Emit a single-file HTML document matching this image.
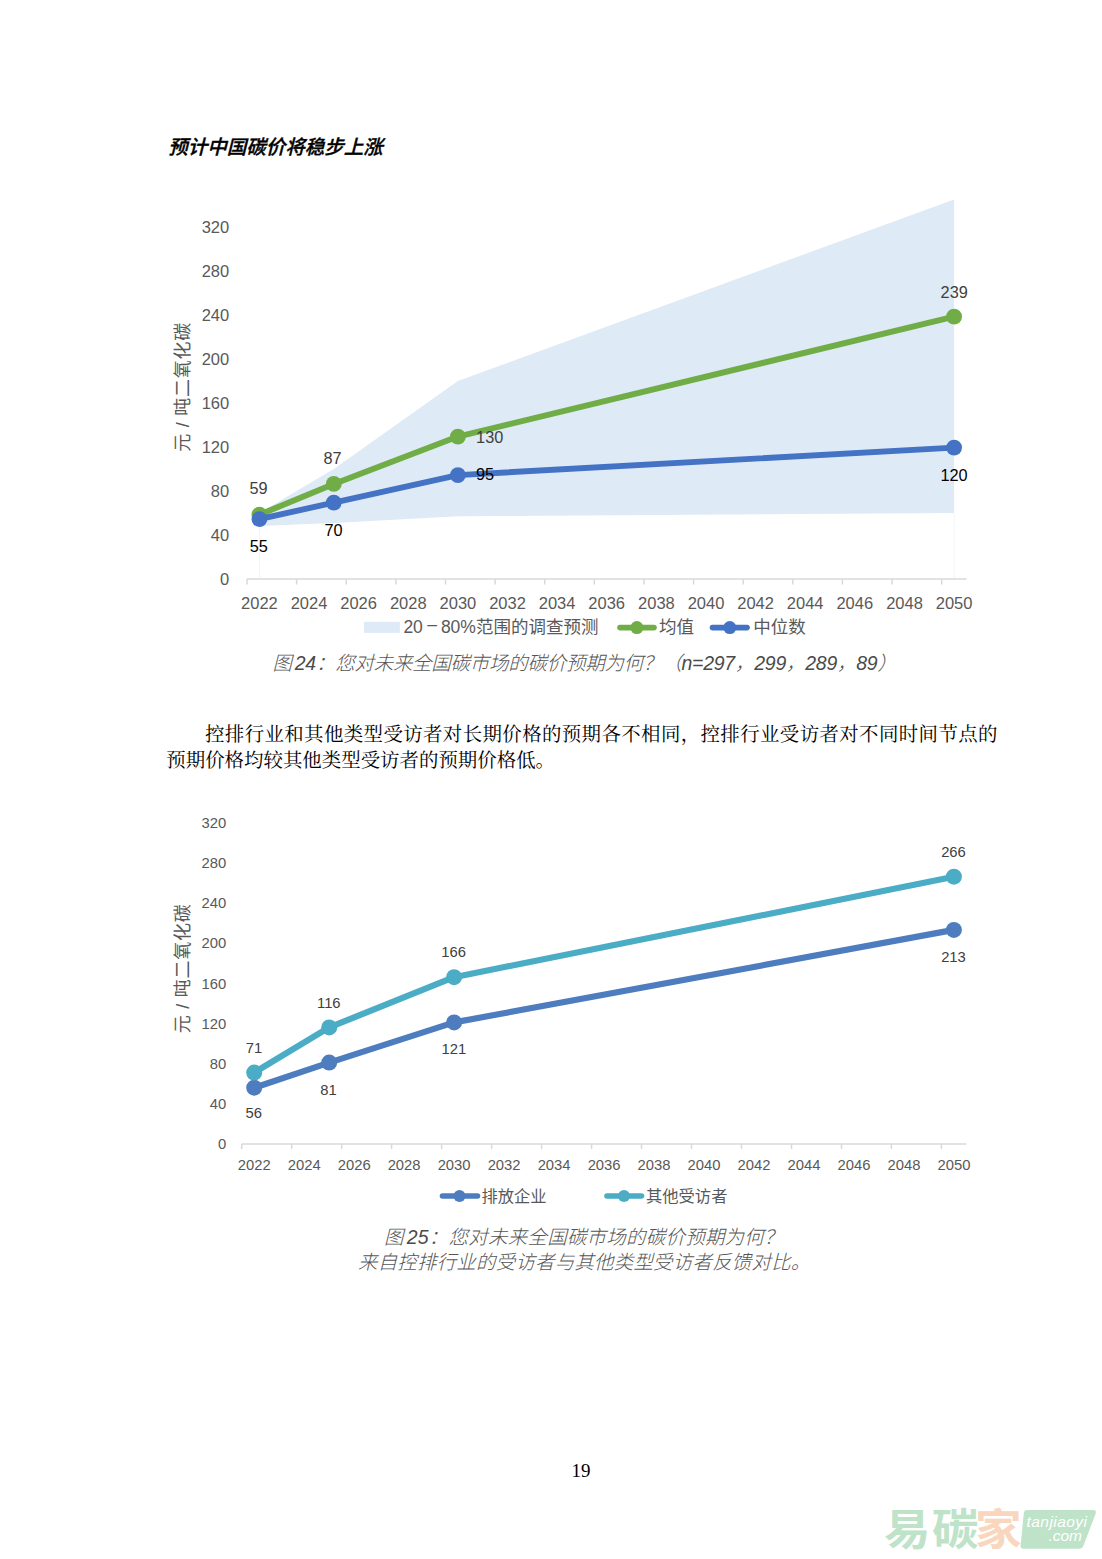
<!DOCTYPE html>
<html lang="zh-CN"><head><meta charset="utf-8"><title>预计中国碳价将稳步上涨</title>
<style>
html,body{margin:0;padding:0;background:#fff;}
body{width:1102px;height:1559px;position:relative;overflow:hidden;}
svg text{white-space:pre;}
</style></head><body>
<svg width="1102" height="1559" viewBox="0 0 1102 1559" style="position:absolute;left:0;top:0">
<polygon fill="#DEEAF6" points="259.4,513.0 333.8,469.0 457.9,381.0 954.1,199.5 954.1,513.0 457.9,516.3 333.8,522.9 259.4,525.9"/>
<line x1="259.4" y1="525.9" x2="259.4" y2="579.0" stroke="#F3F4F6" stroke-width="1"/>
<line x1="954.1" y1="513.0" x2="954.1" y2="579.0" stroke="#F3F4F6" stroke-width="1"/>
<line x1="247.0" y1="579.0" x2="966.6" y2="579.0" stroke="#D9D9D9" stroke-width="1.5"/>
<line x1="247.0" y1="579.0" x2="247.0" y2="584.5" stroke="#D9D9D9" stroke-width="1.5"/>
<line x1="296.6" y1="579.0" x2="296.6" y2="584.5" stroke="#D9D9D9" stroke-width="1.5"/>
<line x1="346.2" y1="579.0" x2="346.2" y2="584.5" stroke="#D9D9D9" stroke-width="1.5"/>
<line x1="395.9" y1="579.0" x2="395.9" y2="584.5" stroke="#D9D9D9" stroke-width="1.5"/>
<line x1="445.5" y1="579.0" x2="445.5" y2="584.5" stroke="#D9D9D9" stroke-width="1.5"/>
<line x1="495.1" y1="579.0" x2="495.1" y2="584.5" stroke="#D9D9D9" stroke-width="1.5"/>
<line x1="544.7" y1="579.0" x2="544.7" y2="584.5" stroke="#D9D9D9" stroke-width="1.5"/>
<line x1="594.3" y1="579.0" x2="594.3" y2="584.5" stroke="#D9D9D9" stroke-width="1.5"/>
<line x1="644.0" y1="579.0" x2="644.0" y2="584.5" stroke="#D9D9D9" stroke-width="1.5"/>
<line x1="693.6" y1="579.0" x2="693.6" y2="584.5" stroke="#D9D9D9" stroke-width="1.5"/>
<line x1="743.2" y1="579.0" x2="743.2" y2="584.5" stroke="#D9D9D9" stroke-width="1.5"/>
<line x1="792.8" y1="579.0" x2="792.8" y2="584.5" stroke="#D9D9D9" stroke-width="1.5"/>
<line x1="842.4" y1="579.0" x2="842.4" y2="584.5" stroke="#D9D9D9" stroke-width="1.5"/>
<line x1="892.1" y1="579.0" x2="892.1" y2="584.5" stroke="#D9D9D9" stroke-width="1.5"/>
<line x1="941.7" y1="579.0" x2="941.7" y2="584.5" stroke="#D9D9D9" stroke-width="1.5"/>
<text x="229.2" y="584.9" font-size="16.5" fill="#595959" text-anchor="end" font-family='"Liberation Sans", "Noto Sans CJK SC", sans-serif'>0</text>
<text x="229.2" y="540.9" font-size="16.5" fill="#595959" text-anchor="end" font-family='"Liberation Sans", "Noto Sans CJK SC", sans-serif'>40</text>
<text x="229.2" y="496.9" font-size="16.5" fill="#595959" text-anchor="end" font-family='"Liberation Sans", "Noto Sans CJK SC", sans-serif'>80</text>
<text x="229.2" y="452.9" font-size="16.5" fill="#595959" text-anchor="end" font-family='"Liberation Sans", "Noto Sans CJK SC", sans-serif'>120</text>
<text x="229.2" y="408.9" font-size="16.5" fill="#595959" text-anchor="end" font-family='"Liberation Sans", "Noto Sans CJK SC", sans-serif'>160</text>
<text x="229.2" y="364.9" font-size="16.5" fill="#595959" text-anchor="end" font-family='"Liberation Sans", "Noto Sans CJK SC", sans-serif'>200</text>
<text x="229.2" y="320.9" font-size="16.5" fill="#595959" text-anchor="end" font-family='"Liberation Sans", "Noto Sans CJK SC", sans-serif'>240</text>
<text x="229.2" y="276.9" font-size="16.5" fill="#595959" text-anchor="end" font-family='"Liberation Sans", "Noto Sans CJK SC", sans-serif'>280</text>
<text x="229.2" y="232.9" font-size="16.5" fill="#595959" text-anchor="end" font-family='"Liberation Sans", "Noto Sans CJK SC", sans-serif'>320</text>
<text x="259.4" y="609.4" font-size="16.5" fill="#595959" text-anchor="middle" font-family='"Liberation Sans", "Noto Sans CJK SC", sans-serif'>2022</text>
<text x="309.0" y="609.4" font-size="16.5" fill="#595959" text-anchor="middle" font-family='"Liberation Sans", "Noto Sans CJK SC", sans-serif'>2024</text>
<text x="358.6" y="609.4" font-size="16.5" fill="#595959" text-anchor="middle" font-family='"Liberation Sans", "Noto Sans CJK SC", sans-serif'>2026</text>
<text x="408.3" y="609.4" font-size="16.5" fill="#595959" text-anchor="middle" font-family='"Liberation Sans", "Noto Sans CJK SC", sans-serif'>2028</text>
<text x="457.9" y="609.4" font-size="16.5" fill="#595959" text-anchor="middle" font-family='"Liberation Sans", "Noto Sans CJK SC", sans-serif'>2030</text>
<text x="507.5" y="609.4" font-size="16.5" fill="#595959" text-anchor="middle" font-family='"Liberation Sans", "Noto Sans CJK SC", sans-serif'>2032</text>
<text x="557.1" y="609.4" font-size="16.5" fill="#595959" text-anchor="middle" font-family='"Liberation Sans", "Noto Sans CJK SC", sans-serif'>2034</text>
<text x="606.7" y="609.4" font-size="16.5" fill="#595959" text-anchor="middle" font-family='"Liberation Sans", "Noto Sans CJK SC", sans-serif'>2036</text>
<text x="656.4" y="609.4" font-size="16.5" fill="#595959" text-anchor="middle" font-family='"Liberation Sans", "Noto Sans CJK SC", sans-serif'>2038</text>
<text x="706.0" y="609.4" font-size="16.5" fill="#595959" text-anchor="middle" font-family='"Liberation Sans", "Noto Sans CJK SC", sans-serif'>2040</text>
<text x="755.6" y="609.4" font-size="16.5" fill="#595959" text-anchor="middle" font-family='"Liberation Sans", "Noto Sans CJK SC", sans-serif'>2042</text>
<text x="805.2" y="609.4" font-size="16.5" fill="#595959" text-anchor="middle" font-family='"Liberation Sans", "Noto Sans CJK SC", sans-serif'>2044</text>
<text x="854.8" y="609.4" font-size="16.5" fill="#595959" text-anchor="middle" font-family='"Liberation Sans", "Noto Sans CJK SC", sans-serif'>2046</text>
<text x="904.5" y="609.4" font-size="16.5" fill="#595959" text-anchor="middle" font-family='"Liberation Sans", "Noto Sans CJK SC", sans-serif'>2048</text>
<text x="954.1" y="609.4" font-size="16.5" fill="#595959" text-anchor="middle" font-family='"Liberation Sans", "Noto Sans CJK SC", sans-serif'>2050</text>
<text transform="translate(188.5,387.3) rotate(-90)" textLength="129" lengthAdjust="spacing" font-size="18" fill="#595959" text-anchor="middle" font-family='"Liberation Sans", "Noto Sans CJK SC", sans-serif'>元 / 吨二氧化碳</text>
<polyline fill="none" stroke="#70AD47" stroke-width="5.9" stroke-linejoin="round" points="259.4,514.7 333.8,483.9 457.9,436.6 954.1,316.7"/>
<circle cx="259.4" cy="514.7" r="7.9" fill="#70AD47"/>
<circle cx="333.8" cy="483.9" r="7.9" fill="#70AD47"/>
<circle cx="457.9" cy="436.6" r="7.9" fill="#70AD47"/>
<circle cx="954.1" cy="316.7" r="7.9" fill="#70AD47"/>
<polyline fill="none" stroke="#4472C4" stroke-width="5.9" stroke-linejoin="round" points="259.4,519.1 333.8,502.6 457.9,475.1 954.1,447.6"/>
<circle cx="259.4" cy="519.1" r="7.9" fill="#4472C4"/>
<circle cx="333.8" cy="502.6" r="7.9" fill="#4472C4"/>
<circle cx="457.9" cy="475.1" r="7.9" fill="#4472C4"/>
<circle cx="954.1" cy="447.6" r="7.9" fill="#4472C4"/>
<text x="258.6" y="494.2" font-size="16.3" fill="#404040" text-anchor="middle" font-family='"Liberation Sans", "Noto Sans CJK SC", sans-serif'>59</text>
<text x="332.6" y="464.2" font-size="16.3" fill="#404040" text-anchor="middle" font-family='"Liberation Sans", "Noto Sans CJK SC", sans-serif'>87</text>
<text x="489.7" y="443.1" font-size="16.3" fill="#404040" text-anchor="middle" font-family='"Liberation Sans", "Noto Sans CJK SC", sans-serif'>130</text>
<text x="954.2" y="297.8" font-size="16.3" fill="#404040" text-anchor="middle" font-family='"Liberation Sans", "Noto Sans CJK SC", sans-serif'>239</text>
<text x="258.7" y="551.8" font-size="16.3" fill="#000" text-anchor="middle" font-family='"Liberation Sans", "Noto Sans CJK SC", sans-serif'>55</text>
<text x="333.5" y="535.7" font-size="16.3" fill="#000" text-anchor="middle" font-family='"Liberation Sans", "Noto Sans CJK SC", sans-serif'>70</text>
<text x="485.0" y="480.4" font-size="16.3" fill="#000" text-anchor="middle" font-family='"Liberation Sans", "Noto Sans CJK SC", sans-serif'>95</text>
<text x="954.1" y="480.7" font-size="16.3" fill="#000" text-anchor="middle" font-family='"Liberation Sans", "Noto Sans CJK SC", sans-serif'>120</text>
<rect x="364" y="621.8" width="35.8" height="11.1" fill="#DEEAF6"/>
<text x="403.4" y="633" font-size="17.5" fill="#595959" font-family='"Liberation Sans", "Noto Sans CJK SC", sans-serif'>20<tspan dx="4.5" dy="-2.6" font-family='"Liberation Sans", sans-serif'>–</tspan><tspan dx="3.8" dy="2.6">80%范围的调查预测</tspan></text>
<line x1="620" y1="627.6" x2="654" y2="627.6" stroke="#70AD47" stroke-width="5.6" stroke-linecap="round"/><circle cx="636.9" cy="627.6" r="6.5" fill="#70AD47"/>
<text x="658.9" y="633" font-size="17.5" fill="#595959" font-family='"Liberation Sans", "Noto Sans CJK SC", sans-serif'>均值</text>
<line x1="712.5" y1="627.6" x2="747" y2="627.6" stroke="#4472C4" stroke-width="5.6" stroke-linecap="round"/><circle cx="729.8" cy="627.6" r="6.5" fill="#4472C4"/>
<text x="753.3" y="633" font-size="17.5" fill="#595959" font-family='"Liberation Sans", "Noto Sans CJK SC", sans-serif'>中位数</text>
<line x1="241.7" y1="1144.0" x2="966.4" y2="1144.0" stroke="#D9D9D9" stroke-width="1.5"/>
<line x1="241.7" y1="1144.0" x2="241.7" y2="1149.0" stroke="#D9D9D9" stroke-width="1.5"/>
<line x1="291.7" y1="1144.0" x2="291.7" y2="1149.0" stroke="#D9D9D9" stroke-width="1.5"/>
<line x1="341.7" y1="1144.0" x2="341.7" y2="1149.0" stroke="#D9D9D9" stroke-width="1.5"/>
<line x1="391.6" y1="1144.0" x2="391.6" y2="1149.0" stroke="#D9D9D9" stroke-width="1.5"/>
<line x1="441.6" y1="1144.0" x2="441.6" y2="1149.0" stroke="#D9D9D9" stroke-width="1.5"/>
<line x1="491.6" y1="1144.0" x2="491.6" y2="1149.0" stroke="#D9D9D9" stroke-width="1.5"/>
<line x1="541.6" y1="1144.0" x2="541.6" y2="1149.0" stroke="#D9D9D9" stroke-width="1.5"/>
<line x1="591.6" y1="1144.0" x2="591.6" y2="1149.0" stroke="#D9D9D9" stroke-width="1.5"/>
<line x1="641.5" y1="1144.0" x2="641.5" y2="1149.0" stroke="#D9D9D9" stroke-width="1.5"/>
<line x1="691.5" y1="1144.0" x2="691.5" y2="1149.0" stroke="#D9D9D9" stroke-width="1.5"/>
<line x1="741.5" y1="1144.0" x2="741.5" y2="1149.0" stroke="#D9D9D9" stroke-width="1.5"/>
<line x1="791.5" y1="1144.0" x2="791.5" y2="1149.0" stroke="#D9D9D9" stroke-width="1.5"/>
<line x1="841.5" y1="1144.0" x2="841.5" y2="1149.0" stroke="#D9D9D9" stroke-width="1.5"/>
<line x1="891.4" y1="1144.0" x2="891.4" y2="1149.0" stroke="#D9D9D9" stroke-width="1.5"/>
<line x1="941.4" y1="1144.0" x2="941.4" y2="1149.0" stroke="#D9D9D9" stroke-width="1.5"/>
<text x="226.3" y="1149.3" font-size="14.8" fill="#595959" text-anchor="end" font-family='"Liberation Sans", "Noto Sans CJK SC", sans-serif'>0</text>
<text x="226.3" y="1109.1" font-size="14.8" fill="#595959" text-anchor="end" font-family='"Liberation Sans", "Noto Sans CJK SC", sans-serif'>40</text>
<text x="226.3" y="1068.9" font-size="14.8" fill="#595959" text-anchor="end" font-family='"Liberation Sans", "Noto Sans CJK SC", sans-serif'>80</text>
<text x="226.3" y="1028.7" font-size="14.8" fill="#595959" text-anchor="end" font-family='"Liberation Sans", "Noto Sans CJK SC", sans-serif'>120</text>
<text x="226.3" y="988.5" font-size="14.8" fill="#595959" text-anchor="end" font-family='"Liberation Sans", "Noto Sans CJK SC", sans-serif'>160</text>
<text x="226.3" y="948.3" font-size="14.8" fill="#595959" text-anchor="end" font-family='"Liberation Sans", "Noto Sans CJK SC", sans-serif'>200</text>
<text x="226.3" y="908.1" font-size="14.8" fill="#595959" text-anchor="end" font-family='"Liberation Sans", "Noto Sans CJK SC", sans-serif'>240</text>
<text x="226.3" y="867.9" font-size="14.8" fill="#595959" text-anchor="end" font-family='"Liberation Sans", "Noto Sans CJK SC", sans-serif'>280</text>
<text x="226.3" y="827.7" font-size="14.8" fill="#595959" text-anchor="end" font-family='"Liberation Sans", "Noto Sans CJK SC", sans-serif'>320</text>
<text x="254.2" y="1170.0" font-size="14.8" fill="#595959" text-anchor="middle" font-family='"Liberation Sans", "Noto Sans CJK SC", sans-serif'>2022</text>
<text x="304.2" y="1170.0" font-size="14.8" fill="#595959" text-anchor="middle" font-family='"Liberation Sans", "Noto Sans CJK SC", sans-serif'>2024</text>
<text x="354.2" y="1170.0" font-size="14.8" fill="#595959" text-anchor="middle" font-family='"Liberation Sans", "Noto Sans CJK SC", sans-serif'>2026</text>
<text x="404.1" y="1170.0" font-size="14.8" fill="#595959" text-anchor="middle" font-family='"Liberation Sans", "Noto Sans CJK SC", sans-serif'>2028</text>
<text x="454.1" y="1170.0" font-size="14.8" fill="#595959" text-anchor="middle" font-family='"Liberation Sans", "Noto Sans CJK SC", sans-serif'>2030</text>
<text x="504.1" y="1170.0" font-size="14.8" fill="#595959" text-anchor="middle" font-family='"Liberation Sans", "Noto Sans CJK SC", sans-serif'>2032</text>
<text x="554.1" y="1170.0" font-size="14.8" fill="#595959" text-anchor="middle" font-family='"Liberation Sans", "Noto Sans CJK SC", sans-serif'>2034</text>
<text x="604.1" y="1170.0" font-size="14.8" fill="#595959" text-anchor="middle" font-family='"Liberation Sans", "Noto Sans CJK SC", sans-serif'>2036</text>
<text x="654.0" y="1170.0" font-size="14.8" fill="#595959" text-anchor="middle" font-family='"Liberation Sans", "Noto Sans CJK SC", sans-serif'>2038</text>
<text x="704.0" y="1170.0" font-size="14.8" fill="#595959" text-anchor="middle" font-family='"Liberation Sans", "Noto Sans CJK SC", sans-serif'>2040</text>
<text x="754.0" y="1170.0" font-size="14.8" fill="#595959" text-anchor="middle" font-family='"Liberation Sans", "Noto Sans CJK SC", sans-serif'>2042</text>
<text x="804.0" y="1170.0" font-size="14.8" fill="#595959" text-anchor="middle" font-family='"Liberation Sans", "Noto Sans CJK SC", sans-serif'>2044</text>
<text x="854.0" y="1170.0" font-size="14.8" fill="#595959" text-anchor="middle" font-family='"Liberation Sans", "Noto Sans CJK SC", sans-serif'>2046</text>
<text x="903.9" y="1170.0" font-size="14.8" fill="#595959" text-anchor="middle" font-family='"Liberation Sans", "Noto Sans CJK SC", sans-serif'>2048</text>
<text x="953.9" y="1170.0" font-size="14.8" fill="#595959" text-anchor="middle" font-family='"Liberation Sans", "Noto Sans CJK SC", sans-serif'>2050</text>
<text transform="translate(188.5,968.8) rotate(-90)" textLength="129" lengthAdjust="spacing" font-size="18" fill="#595959" text-anchor="middle" font-family='"Liberation Sans", "Noto Sans CJK SC", sans-serif'>元 / 吨二氧化碳</text>
<polyline fill="none" stroke="#4E7DBF" stroke-width="6.2" stroke-linejoin="round" points="254.2,1087.7 329.2,1062.6 454.1,1022.4 953.9,929.9"/>
<circle cx="254.2" cy="1087.7" r="8.0" fill="#4E7DBF"/>
<circle cx="329.2" cy="1062.6" r="8.0" fill="#4E7DBF"/>
<circle cx="454.1" cy="1022.4" r="8.0" fill="#4E7DBF"/>
<circle cx="953.9" cy="929.9" r="8.0" fill="#4E7DBF"/>
<polyline fill="none" stroke="#4BACC6" stroke-width="6.2" stroke-linejoin="round" points="254.2,1072.6 329.2,1027.4 454.1,977.2 953.9,876.7"/>
<circle cx="254.2" cy="1072.6" r="8.0" fill="#4BACC6"/>
<circle cx="329.2" cy="1027.4" r="8.0" fill="#4BACC6"/>
<circle cx="454.1" cy="977.2" r="8.0" fill="#4BACC6"/>
<circle cx="953.9" cy="876.7" r="8.0" fill="#4BACC6"/>
<text x="253.9" y="1052.9" font-size="14.8" fill="#404040" text-anchor="middle" font-family='"Liberation Sans", "Noto Sans CJK SC", sans-serif'>71</text>
<text x="328.8" y="1007.7" font-size="14.8" fill="#404040" text-anchor="middle" font-family='"Liberation Sans", "Noto Sans CJK SC", sans-serif'>116</text>
<text x="453.6" y="956.8" font-size="14.8" fill="#404040" text-anchor="middle" font-family='"Liberation Sans", "Noto Sans CJK SC", sans-serif'>166</text>
<text x="953.5" y="856.5" font-size="14.8" fill="#404040" text-anchor="middle" font-family='"Liberation Sans", "Noto Sans CJK SC", sans-serif'>266</text>
<text x="253.8" y="1118.3" font-size="14.8" fill="#404040" text-anchor="middle" font-family='"Liberation Sans", "Noto Sans CJK SC", sans-serif'>56</text>
<text x="328.5" y="1095.1" font-size="14.8" fill="#404040" text-anchor="middle" font-family='"Liberation Sans", "Noto Sans CJK SC", sans-serif'>81</text>
<text x="453.8" y="1053.9" font-size="14.8" fill="#404040" text-anchor="middle" font-family='"Liberation Sans", "Noto Sans CJK SC", sans-serif'>121</text>
<text x="953.5" y="961.6" font-size="14.8" fill="#404040" text-anchor="middle" font-family='"Liberation Sans", "Noto Sans CJK SC", sans-serif'>213</text>
<line x1="442.5" y1="1196" x2="477.5" y2="1196" stroke="#4E7DBF" stroke-width="5.6" stroke-linecap="round"/><circle cx="459.5" cy="1196" r="6" fill="#4E7DBF"/>
<text x="481.5" y="1201.5" font-size="16.3" fill="#595959" font-family='"Liberation Sans", "Noto Sans CJK SC", sans-serif'>排放企业</text>
<line x1="607" y1="1196" x2="641.5" y2="1196" stroke="#4BACC6" stroke-width="5.6" stroke-linecap="round"/><circle cx="624" cy="1196" r="6" fill="#4BACC6"/>
<text x="646" y="1201.5" font-size="16.3" fill="#595959" font-family='"Liberation Sans", "Noto Sans CJK SC", sans-serif'>其他受访者</text>
<text x="168.3" y="154" font-size="19.5" font-weight="500" font-style="italic" fill="#000" stroke="#000" stroke-width="0.35" font-family='"Liberation Sans", "Noto Sans CJK SC", sans-serif'>预计中国碳价将稳步上涨</text>
<text x="272.5" y="670" font-size="19.45" font-weight="300" font-style="italic" fill="#555" textLength="624.4" lengthAdjust="spacing" font-family='"Liberation Sans", "Noto Sans CJK SC", sans-serif'>图<tspan dx="3" font-weight="400" fill="#4a4a4a">24</tspan>：您对未来全国碳市场的碳价预期为何？（<tspan font-weight="400" fill="#4a4a4a">n=297</tspan>，<tspan font-weight="400" fill="#4a4a4a">299</tspan>，<tspan font-weight="400" fill="#4a4a4a">289</tspan>，<tspan font-weight="400" fill="#4a4a4a">89</tspan>）</text>
<text x="205.0" y="741.3" font-size="19.45" fill="#000" font-family='"Liberation Serif", "Noto Serif CJK SC", serif' textLength="792.5" lengthAdjust="spacing">控排行业和其他类型受访者对长期价格的预期各不相同，控排行业受访者对不同时间节点的</text>
<text x="166.3" y="767" font-size="19.45" fill="#000" font-family='"Liberation Serif", "Noto Serif CJK SC", serif'>预期价格均较其他类型受访者的预期价格低。</text>
<text x="384" y="1243.5" font-size="19.45" font-weight="300" font-style="italic" fill="#555" textLength="399.5" lengthAdjust="spacing" font-family='"Liberation Sans", "Noto Sans CJK SC", sans-serif'>图<tspan dx="3" font-weight="400" fill="#4a4a4a">25</tspan>：您对未来全国碳市场的碳价预期为何？</text>
<text x="358" y="1268.5" font-size="19.45" font-weight="300" font-style="italic" fill="#555" textLength="452.3" lengthAdjust="spacing" font-family='"Liberation Sans", "Noto Sans CJK SC", sans-serif'>来自控排行业的受访者与其他类型受访者反馈对比。</text>
<text x="581.1" y="1477" font-size="19" fill="#000" text-anchor="middle" font-family='"Liberation Serif", "Noto Serif CJK SC", serif'>19</text>
<text transform="scale(1.08,1)" y="1545" font-size="43" font-weight="bold" fill="#BEE3C8" font-family='"Noto Sans CJK SC", sans-serif'><tspan x="818.5">易</tspan><tspan x="863.0">碳</tspan><tspan x="902.8" fill="#F9D6BD">家</tspan></text>
<path d="M1027,1510 L1093,1510 Q1097,1510 1095.5,1514 L1083.5,1545.5 Q1082.3,1548.8 1079,1548.8 L1023.5,1548.8 Q1020.3,1548.8 1020.6,1545.5 L1023.8,1513 Q1024.2,1510 1027,1510 Z" fill="#BEE3C8"/>
<text x="1026.5" y="1527.1" font-size="15.5" font-style="italic" fill="#fff" textLength="60.5" lengthAdjust="spacing" font-family='"Liberation Sans", "Noto Sans CJK SC", sans-serif'>tanjiaoyi</text>
<text x="1082" y="1540.5" font-size="15.5" font-style="italic" fill="#fff" text-anchor="end" font-family='"Liberation Sans", "Noto Sans CJK SC", sans-serif'>.com</text>
</svg>
</body></html>
